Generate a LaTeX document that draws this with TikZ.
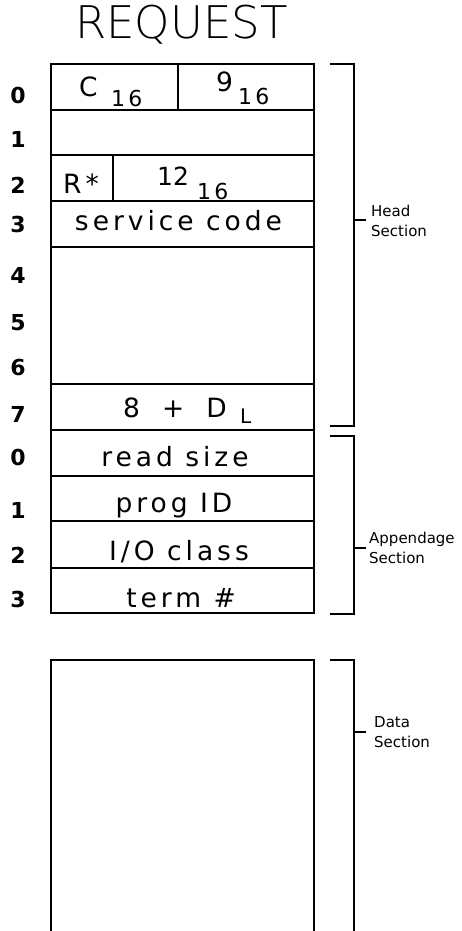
\documentclass[tikz,border=0pt]{standalone}
\usepackage{fontspec}
\setmainfont{DejaVu Sans}
\newfontfamily\cellfont[LetterSpace=15]{DejaVu Sans}
\newfontfamily\digfont{DejaVu Sans}
\newfontfamily\titlefont{DejaVu Sans ExtraLight}
\begin{document}
\begin{tikzpicture}[x=1pt,y=-1pt,
  boxline/.style={line width=2.4pt},
  cell/.style={draw,line width=2.4pt,inner sep=0pt,outer sep=0pt,rectangle},
  txt/.style={inner sep=0pt,anchor=base,font=\cellfont\fontsize{26.5}{30}\selectfont},
  txtw/.style={inner sep=0pt,anchor=base west,font=\cellfont\fontsize{26.5}{30}\selectfont},
  subs/.style={inner sep=0pt,anchor=base west,font=\cellfont\fontsize{22}{26}\selectfont},
  rownum/.style={inner sep=0pt,anchor=base,font=\digfont\bfseries\fontsize{22}{26}\selectfont},
  brk/.style={line width=2.6pt},
  seclabel/.style={inner sep=0pt,anchor=west,align=left,font=\digfont\fontsize{15}{19.5}\selectfont}]
\useasboundingbox (0,0) rectangle (461,931);
% title
\node[inner sep=0pt,anchor=base,font=\titlefont\fontsize{45}{50}\selectfont] (title) at (181.5,39) {REQUEST};
% head section cells
\node[cell,minimum width=127pt,minimum height=46pt] (r0a) at (114.5,87) {};
\node[cell,minimum width=136pt,minimum height=46pt] (r0b) at (246,87) {};
\node[cell,minimum width=263pt,minimum height=45pt] (r1) at (182.5,132.5) {};
\node[cell,minimum width=62pt,minimum height=46pt] (r2a) at (82,178) {};
\node[cell,minimum width=201pt,minimum height=46pt] (r2b) at (213.5,178) {};
\node[cell,minimum width=263pt,minimum height=46pt] (r3) at (182.5,224) {};
\node[cell,minimum width=263pt,minimum height=137pt] (r46) at (182.5,315.5) {};
\node[cell,minimum width=263pt,minimum height=46pt] (r7) at (182.5,407) {};
% appendage cells
\node[cell,minimum width=263pt,minimum height=46pt] (a0) at (182.5,453) {};
\node[cell,minimum width=263pt,minimum height=45pt] (a1) at (182.5,498.5) {};
\node[cell,minimum width=263pt,minimum height=47pt] (a2) at (182.5,544.5) {};
\node[cell,minimum width=263pt,minimum height=45pt] (a3) at (182.5,590.5) {};
% data box (open at the bottom)
\draw[boxline] (51,931) -- (51,660) -- (314,660) -- (314,931);
% cell texts
\node[txtw] (tC) at (79,97) {C};
\node[subs] (tC16) at (111,107) {16};
\node[txtw] (t9) at (216,92) {9};
\node[subs] (t916) at (238,105) {16};
\node[txtw] (tR) at (63,193) {R*};
\node[inner sep=0pt,anchor=base west,font=\digfont\fontsize{25}{30}\selectfont] (t12) at (157,185) {12};
\node[subs] (t1216) at (197,199) {16};
\node[txt] (tsc) at (178.5,230) {service code};
\node[txtw] (t8) at (123,417) {8\hspace{22pt}+\hspace{22pt}D};
\node[inner sep=0pt,anchor=base west,font=\digfont\fontsize{20}{22}\selectfont] (tL) at (240,423) {L};
\node[txt] (trs) at (175,466) {read size};
\node[txt] (tpi) at (174,512) {prog ID};
\node[txt] (tio) at (179,560) {I/O class};
\node[txt] (ttn) at (181,607) {term \#};
% row numbers
\node[rownum] (n0) at (18,103) {0};
\node[rownum] (n1) at (18,147) {1};
\node[rownum] (n2) at (18,193) {2};
\node[rownum] (n3) at (18,232) {3};
\node[rownum] (n4) at (18,283) {4};
\node[rownum] (n5) at (18,330) {5};
\node[rownum] (n6) at (18,375) {6};
\node[rownum] (n7) at (18,422) {7};
\node[rownum] (m0) at (18,465) {0};
\node[rownum] (m1) at (18,518) {1};
\node[rownum] (m2) at (18,563) {2};
\node[rownum] (m3) at (18,607) {3};
% brackets
\draw[brk] (330,64) -- (354,64) -- (354,426) -- (330,426);
\draw[brk] (354,220) -- (366,220);
\node[seclabel] (lhead) at (371,221) {Head\\Section};
\draw[brk] (330,436) -- (354,436) -- (354,614) -- (330,614);
\draw[brk] (354,548) -- (366,548);
\node[seclabel] (lapp) at (369,548) {Appendage\\Section};
\draw[brk] (330,660) -- (354,660) -- (354,931);
\draw[brk] (354,732) -- (366,732);
\node[seclabel] (ldata) at (374,732) {Data\\Section};
\end{tikzpicture}
\end{document}
